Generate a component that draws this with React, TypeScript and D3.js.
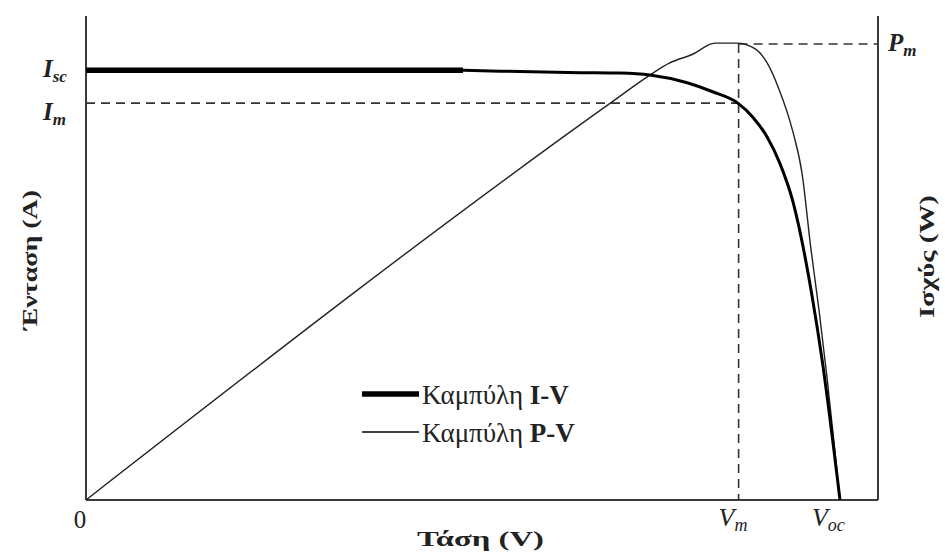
import * as d3 from "d3";

// I-V curve (voltage, current), arbitrary units
const ivVoltage = [0, 47.6, 52.3, 62.4, 67.4, 71.2, 75.9, 79.2, 82.3, 84.2, 86.0, 87.6, 89.3, 91.7, 93.0, 95.2];
const ivCurrent = [88.8, 88.8, 88.6, 88.3, 88.2, 87.8, 86.2, 84.3, 82.0, 79.1, 75.0, 69.6, 61.4, 41.9, 28.3, 0];
// thick part of the I-V curve ends here
const ivThickEnd = 47.6;

// P-V curve (voltage, power)
const pvVoltage = [0, 66.2, 71.2, 73.7, 76.6, 79.4, 82.2, 84.5, 86.0, 87.4, 89.3, 90.4, 91.5, 92.6, 93.6, 94.5, 95.2];
const pvPower = [0, 82.0, 87.8, 90.3, 92.1, 94.4, 94.4, 93.2, 90.3, 85.3, 75.8, 67.6, 52.3, 38.6, 24.8, 11.0, 0];

const Vm = 82.4;
const Voc = 95.2;
const Isc = 88.8;
const Im = 82.0;
const Pm = 94.2;

const legendItems = [
  { name: "Καμπύλη ", tag: "I-V", width: 5.5 },
  { name: "Καμπύλη ", tag: "P-V", width: 1.4 },
];

export default function App() {
  const width = 945;
  const height = 552;
  const left = 86, right = 878, top = 16, bottom = 500;

  const x = d3.scaleLinear().domain([0, 100]).range([left, right]);
  const yI = d3.scaleLinear().domain([0, 100]).range([bottom, top]);
  const yP = d3.scaleLinear().domain([0, 100]).range([bottom, top]);

  const iv = ivVoltage.map((v, i) => [v, ivCurrent[i]] as [number, number]);
  const pv = pvVoltage.map((v, i) => [v, pvPower[i]] as [number, number]);

  const ivLine = d3.line<[number, number]>().x(d => x(d[0])).y(d => yI(d[1])).curve(d3.curveMonotoneX);
  const pvLine = d3.line<[number, number]>().x(d => x(d[0])).y(d => yP(d[1])).curve(d3.curveMonotoneX);

  const ivThick = iv.filter(d => d[0] <= ivThickEnd);
  const ivRest = iv.filter(d => d[0] >= ivThickEnd);

  const serif = "'Liberation Serif', 'DejaVu Serif', serif";
  const axisColor = "#3a3a3a";
  const ink = "#222";
  const dash = "9,6";

  return (
    <svg width={width} height={height} style={{ position: "absolute", left: 0, top: 0, background: "#fff" }} fontFamily={serif}>
      {/* axes */}
      <line x1={left} x2={left} y1={top} y2={bottom} stroke={axisColor} strokeWidth={2} />
      <line x1={right} x2={right} y1={top} y2={bottom} stroke={axisColor} strokeWidth={2} />
      <line x1={left} x2={right} y1={bottom} y2={bottom} stroke={axisColor} strokeWidth={2} />

      {/* reference dashes */}
      <line x1={left} x2={x(Vm)} y1={yI(Im)} y2={yI(Im)} stroke="#333" strokeWidth={1.6} strokeDasharray={dash} />
      <line x1={x(Vm)} x2={x(Vm)} y1={yP(Pm)} y2={bottom} stroke="#333" strokeWidth={1.6} strokeDasharray={dash} />
      <line x1={x(Vm)} x2={right} y1={yP(Pm)} y2={yP(Pm)} stroke="#333" strokeWidth={1.6} strokeDasharray={dash} />

      {/* curves */}
      <path d={pvLine(pv) ?? ""} fill="none" stroke="#222" strokeWidth={1.4} />
      <path d={ivLine(ivThick) ?? ""} fill="none" stroke="#000" strokeWidth={5.5} />
      <path d={ivLine(ivRest) ?? ""} fill="none" stroke="#000" strokeWidth={3} />

      {/* left / right value labels */}
      <text x={43} y={yI(Isc) + 7} fontSize={25} fontStyle="italic" fontWeight="bold" fill={ink}>
        I<tspan fontSize={17} dy={5} fontWeight="bold">sc</tspan>
      </text>
      <text x={43} y={yI(Im) + 17} fontSize={25} fontStyle="italic" fontWeight="bold" fill={ink}>
        I<tspan fontSize={17} dy={5} fontWeight="bold">m</tspan>
      </text>
      <text x={888} y={yP(Pm) + 7} fontSize={25} fontStyle="italic" fontWeight="bold" fill={ink}>
        P<tspan fontSize={17} dy={5} fontWeight="bold">m</tspan>
      </text>

      {/* bottom value labels */}
      <text x={80} y={528} fontSize={25} textAnchor="middle" fill={ink}>0</text>
      <text x={x(Vm) - 20} y={526} fontSize={26} fontStyle="italic" fill={ink}>
        V<tspan fontSize={18} dy={5}>m</tspan>
      </text>
      <text x={x(Voc) - 28} y={526} fontSize={26} fontStyle="italic" fill={ink}>
        V<tspan fontSize={18} dy={5}>oc</tspan>
      </text>

      {/* axis titles */}
      <text x={417} y={546} fontSize={21} fontWeight="bold" fill={ink} textLength={127} lengthAdjust="spacingAndGlyphs">Τάση (V)</text>
      <text transform={`translate(37,330) rotate(-90)`} fontSize={21} fontWeight="bold" fill={ink} textLength={140} lengthAdjust="spacingAndGlyphs">Ένταση (A)</text>
      <text transform={`translate(934,318) rotate(-90)`} fontSize={21} fontWeight="bold" fill={ink} textLength={123} lengthAdjust="spacingAndGlyphs">Ισχύς (W)</text>

      {/* legend */}
      {legendItems.map((d, i) => (
        <g key={d.tag} transform={`translate(362,${394 + i * 38})`}>
          <line x1={0} x2={57} y1={0} y2={0} stroke="#000" strokeWidth={d.width} />
          <text x={60} y={10} fontSize={27} fill={ink}>
            {d.name}<tspan fontWeight="bold">{d.tag}</tspan>
          </text>
        </g>
      ))}
    </svg>
  );
}
